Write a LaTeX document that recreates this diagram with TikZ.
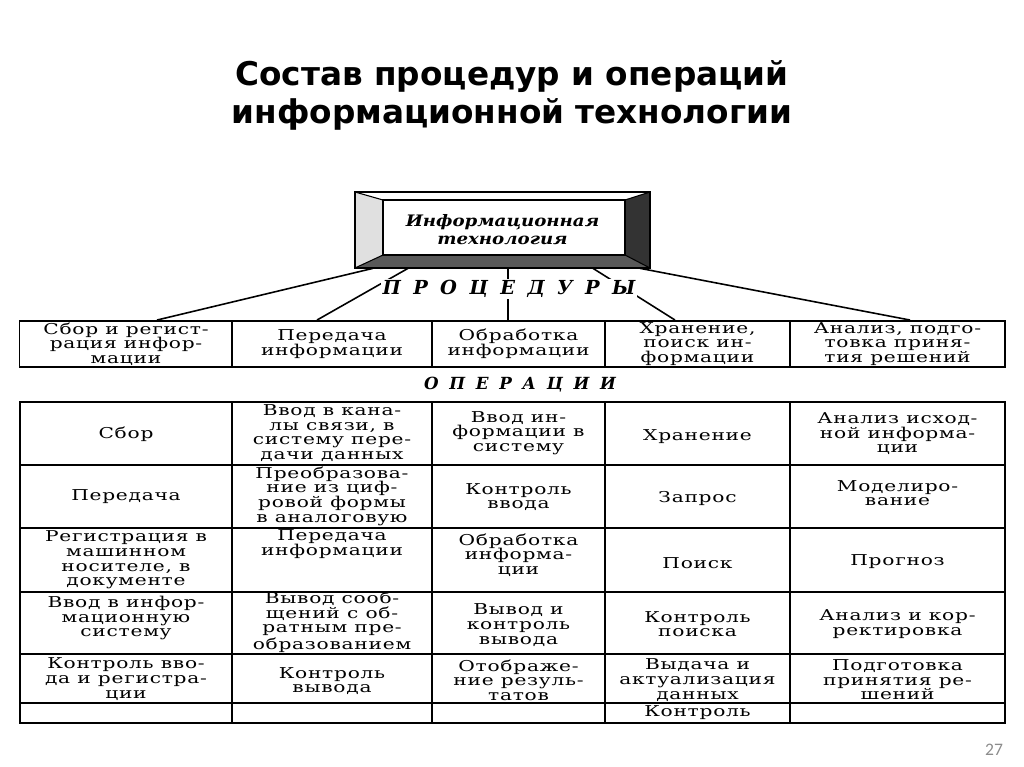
\documentclass[tikz,border=0pt]{standalone}
\usepackage{fontspec}
\newfontfamily\headingfont{DejaVu Sans}
\newfontfamily\scanfont{DejaVu Serif}[FakeStretch=1.35,LetterSpace=5]
\newfontfamily\boxfont{DejaVu Serif}[FakeStretch=1.15]
\newfontfamily\spacedfont{DejaVu Serif}[LetterSpace=64]
\newfontfamily\pagefont{Carlito}

\begin{document}
\begin{tikzpicture}[
    x=0.02cm, y=-0.02cm,
    title/.style={font=\headingfont\bfseries\fontsize{18.6pt}{22pt}\selectfont, align=center},
    cell/.style={font=\scanfont\fontsize{8.5pt}{8.3pt}\selectfont, align=center, inner sep=0pt},
    procbox/.style={cell, draw, line width=1.1pt, minimum height=0.92cm},
    spaced/.style={font=\spacedfont\bfseries\itshape\fontsize{11pt}{13pt}\selectfont, fill=white, inner sep=1pt},
    tabline/.style={line width=1.1pt},
    link/.style={line width=0.9pt}
]
    \useasboundingbox (0,0) rectangle (1024,767);

% -------------------------
% Title
% -------------------------
    \node[title] (title1) at (512,77) {Состав процедур и операций};
    \node[title] (title2) at (512,114) {информационной технологии};

% -------------------------
% Framed box
% -------------------------
    \fill[white] (355,192) -- (650,192) -- (625,200) -- (383,200) -- cycle;
    \fill[black!12] (355,192) -- (383,200) -- (383,255) -- (355,268) -- cycle;
    \fill[black!80] (650,192) -- (650,268) -- (625,255) -- (625,200) -- cycle;
    \fill[black!65] (383,255) -- (625,255) -- (650,268) -- (355,268) -- cycle;
    \draw[line width=1pt] (355,192) rectangle (650,268);
    \draw[line width=0.8pt] (383,200) rectangle (625,255);
    \draw[line width=0.6pt] (355,192) -- (383,200) (650,192) -- (625,200)
        (355,268) -- (383,255) (650,268) -- (625,255);
    \node[font=\boxfont\bfseries\itshape\fontsize{9pt}{10.2pt}\selectfont, align=center,
        minimum width=5.9cm, minimum height=1.52cm] (itbox) at (502.5,230)
        {Информационная\\технология};

% -------------------------
% Procedures
% -------------------------
    \node[procbox, minimum width=4.26cm] (proc1) at (126,344) {Сбор и регист-\\рация инфор-\\мации};
    \node[procbox, minimum width=4.00cm] (proc2) at (332,344) {Передача\\информации};
    \node[procbox, minimum width=3.46cm] (proc3) at (518.5,344) {Обработка\\информации};
    \node[procbox, minimum width=3.70cm] (proc4) at (697.5,344) {Хранение,\\поиск ин-\\формации};
    \node[procbox, minimum width=4.30cm] (proc5) at (897.5,344) {Анализ, подго-\\товка приня-\\тия решений};

    \draw[link] ([xshift=-2.59cm]itbox.south) -- ([xshift=0.62cm]proc1.north);
    \draw[link] ([xshift=-1.89cm]itbox.south) -- ([xshift=-0.30cm]proc2.north);
    \draw[link] ([xshift=0.11cm]itbox.south) -- ([xshift=-0.21cm]proc3.north);
    \draw[link] ([xshift=1.81cm]itbox.south) -- ([xshift=-0.45cm]proc4.north);
    \draw[link] ([xshift=2.75cm]itbox.south) -- ([xshift=0.25cm]proc5.north);

    % label sits over the connectors
    \node[spaced] (proclabel) at (509,289) {ПРОЦЕДУРЫ};

% -------------------------
% Operations table
% -------------------------
    \node[spaced, font=\spacedfont\bfseries\itshape\fontsize{9.5pt}{11pt}\selectfont] (oplabel) at (520,385) {ОПЕРАЦИИ};

    \draw[tabline] (20,402) rectangle (1005,723);
    \foreach \x in {232,432,605,790}
        \draw[tabline] (\x,402) -- (\x,723);
    \foreach \y in {465,528,592,654,703}
        \draw[tabline] (20,\y) -- (1005,\y);

    % column 1
    \node[cell] (op11) at (126,434) {Сбор};
    \node[cell] (op12) at (126,497) {Передача};
    \node[cell] (op13) at (126,560) {Регистрация в\\машинном\\носителе, в\\документе};
    \node[cell] (op14) at (126,618) {Ввод в инфор-\\мационную\\систему};
    \node[cell] (op15) at (126,679) {Контроль вво-\\да и регистра-\\ции};

    % column 2
    \node[cell] (op21) at (332,433) {Ввод в кана-\\лы связи, в\\систему пере-\\дачи данных};
    \node[cell] (op22) at (332,496) {Преобразова-\\ние из циф-\\ровой формы\\в аналоговую};
    \node[cell] (op23) at (332,544) {Передача\\информации};
    \node[cell] (op24) at (332,622) {Вывод сооб-\\щений с об-\\ратным пре-\\образованием};
    \node[cell] (op25) at (332,681) {Контроль\\вывода};

    % column 3
    \node[cell] (op31) at (518.5,433) {Ввод ин-\\формации в\\систему};
    \node[cell] (op32) at (518.5,497) {Контроль\\ввода};
    \node[cell] (op33) at (518.5,555) {Обработка\\информа-\\ции};
    \node[cell] (op34) at (518.5,625) {Вывод и\\контроль\\вывода};
    \node[cell] (op35) at (518.5,680) {Отображе-\\ние резуль-\\татов};

    % column 4
    \node[cell] (op41) at (697.5,437) {Хранение};
    \node[cell] (op42) at (697.5,499) {Запрос};
    \node[cell] (op43) at (697.5,563) {Поиск};
    \node[cell] (op44) at (697.5,624) {Контроль\\поиска};
    \node[cell] (op45) at (697.5,680) {Выдача и\\актуализация\\данных};
    \node[cell] (op46) at (697.5,713) {Контроль};

    % column 5
    \node[cell] (op51) at (897.5,434) {Анализ исход-\\ной информа-\\ции};
    \node[cell] (op52) at (897.5,493) {Моделиро-\\вание};
    \node[cell] (op53) at (897.5,562) {Прогноз};
    \node[cell] (op54) at (897.5,624) {Анализ и кор-\\ректировка};
    \node[cell] (op55) at (897.5,680) {Подготовка\\принятия ре-\\шений};

% -------------------------
% Page number
% -------------------------
    \node[font=\pagefont\fontsize{10pt}{12pt}\selectfont, text=black!45] (pagenum) at (994,750) {27};
\end{tikzpicture}
\end{document}
